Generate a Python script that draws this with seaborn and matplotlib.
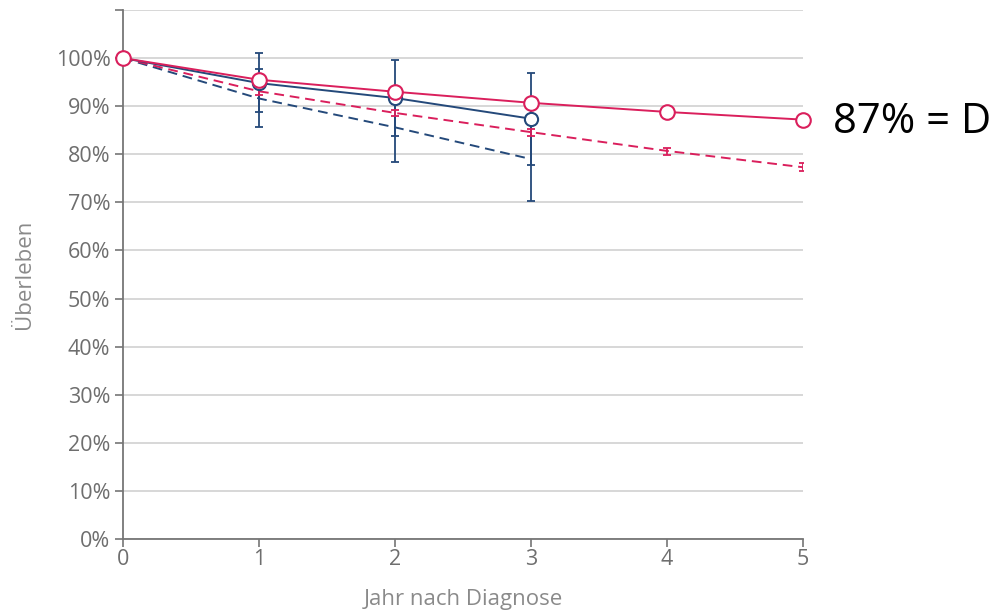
import numpy as np
import pandas as pd
import matplotlib
matplotlib.use("Agg")
import matplotlib.pyplot as plt
import seaborn as sns

# years after diagnosis
jahre = [0, 1, 2, 3, 4, 5]
jahre_b = [0, 1, 2, 3]

# survival in percent
rot_beob = [100, 95.5, 93.0, 90.7, 88.8, 87.2]
rot_rel = [100, 93.1, 88.6, 84.6, 80.7, 77.3]
rot_rel_lo = [100, 92.4, 87.9, 83.8, 79.9, 76.5]
rot_rel_hi = [100, 93.8, 89.3, 85.3, 81.4, 78.1]

blau_beob = [100, 94.8, 91.7, 87.4]
blau_beob_lo = [100, 85.7, 78.3, 70.3]
blau_beob_hi = [100, 101.0, 99.7, 96.9]
blau_rel = [100, 91.6, 85.6, 79.0]
blau_rel_lo = [100, 88.8, 83.8, 77.8]
blau_rel_hi = [100, 97.7, 90.4, 87.7]

ROT = "#da1f5c"
BLAU = "#24497a"
GRAU = "#767676"

sns.set_theme(style="white")
plt.rcParams["font.family"] = ["Open Sans", "DejaVu Sans"]

fig = plt.figure(figsize=(9.94, 6.16), dpi=100)
ax = fig.add_axes([123 / 994, 77 / 616, 680 / 994, 529 / 616])

df_rot = pd.DataFrame({"Jahr": jahre, "beob": rot_beob, "rel": rot_rel})
df_blau = pd.DataFrame({"Jahr": jahre_b, "beob": blau_beob, "rel": blau_rel})

# error bars
ax.errorbar(jahre_b, blau_beob,
            yerr=[np.subtract(blau_beob, blau_beob_lo), np.subtract(blau_beob_hi, blau_beob)],
            fmt="none", ecolor=BLAU, elinewidth=1.3, capsize=3, capthick=1.3, zorder=3)
ax.errorbar(jahre_b, blau_rel,
            yerr=[np.subtract(blau_rel, blau_rel_lo), np.subtract(blau_rel_hi, blau_rel)],
            fmt="none", ecolor=BLAU, elinewidth=1.3, capsize=3, capthick=1.3, zorder=3)
ax.errorbar(jahre, rot_rel,
            yerr=[np.subtract(rot_rel, rot_rel_lo), np.subtract(rot_rel_hi, rot_rel)],
            fmt="none", ecolor=ROT, elinewidth=1.3, capsize=3, capthick=1.3, zorder=3)

# lines
sns.lineplot(data=df_blau, x="Jahr", y="rel", ax=ax, color=BLAU, lw=1.4,
             linestyle=(0, (5, 3)), zorder=4)
sns.lineplot(data=df_rot, x="Jahr", y="rel", ax=ax, color=ROT, lw=1.4,
             linestyle=(0, (5, 3)), zorder=4)
sns.lineplot(data=df_blau, x="Jahr", y="beob", ax=ax, color=BLAU, lw=1.4,
             marker="o", markersize=9.5, markerfacecolor="white",
             markeredgecolor=BLAU, markeredgewidth=1.5, zorder=5, clip_on=False)
sns.lineplot(data=df_rot, x="Jahr", y="beob", ax=ax, color=ROT, lw=1.4,
             marker="o", markersize=10.5, markerfacecolor="white",
             markeredgecolor=ROT, markeredgewidth=1.5, zorder=6, clip_on=False)

ax.set_xlim(0, 5)
ax.set_ylim(0, 110)
ax.set_xticks(jahre)
ax.set_yticks(np.arange(0, 111, 10))
ax.set_yticklabels([f"{v}%" for v in range(0, 101, 10)] + [""])
ax.yaxis.grid(True, color="#d4d4d4", lw=1.3)
ax.set_axisbelow(True)

for s in ["top", "right"]:
    ax.spines[s].set_visible(False)
for s in ["left", "bottom"]:
    ax.spines[s].set_color(GRAU)
    ax.spines[s].set_linewidth(1.3)

ax.tick_params(axis="both", colors=GRAU, labelcolor="#6e6e6e", labelsize=15.5,
               length=6, width=1.2, direction="out", bottom=True, left=True)
ax.tick_params(axis="x", pad=1)
ax.tick_params(axis="y", pad=3)

ax.set_xlabel("Jahr nach Diagnose", color="#8a8a8a", fontsize=16, labelpad=14)
ax.set_ylabel("Überleben", color="#8a8a8a", fontsize=16, labelpad=15)

fig.text(833 / 994, 1 - 122 / 616, "87% = D", fontsize=30, color="black",
         va="center", ha="left")

fig.savefig("out.png", dpi=100)
